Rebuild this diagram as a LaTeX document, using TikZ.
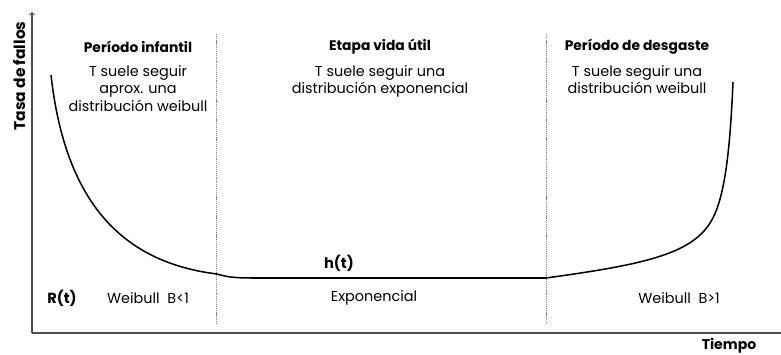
\documentclass[tikz,border=0pt]{standalone}
\usepackage{fontspec}
\setmainfont{Poppins}
\usepackage{tikz}

\tikzset{
  titulo/.style={font=\fontsize{11.8}{14}\selectfont\bfseries, align=center},
  nota/.style={font=\fontsize{12.3}{15}\selectfont, align=center},
  etiq/.style={font=\fontsize{12.3}{15}\selectfont},
  marca/.style={font=\fontsize{12.5}{15}\selectfont\bfseries},
  divisor/.style={gray, line width=0.6pt, dash pattern=on 1pt off 0.8pt},
  eje/.style={black!70, line width=0.9pt},
  curva/.style={black, line width=1.3pt}
}

\begin{document}
\begin{tikzpicture}[x=0.03cm, y=-0.03cm]
			\useasboundingbox (0,0) rectangle (781,354);
			% ejes
			\coordinate (o) at (32,333);
			\coordinate (ytop) at (32,12);
			\coordinate (xend) at (781,333);
			\draw[eje,->] (o)--(ytop);
			\draw[eje] (o)--(xend);
			\node[marca, font=\fontsize{13.2}{16}\selectfont\bfseries, rotate=90] (ylab) at (19,76) {Tasa de fallos};
			\node[marca, font=\fontsize{12}{14}\selectfont\bfseries] (xlab) at (729,346) {Tiempo};
			% divisiones
			\coordinate (d1a) at (216,34);
			\coordinate (d1b) at (216,323);
			\coordinate (d2a) at (546,34);
			\coordinate (d2b) at (546,323);
			\draw[divisor] (d1a)--(d1b);
			\draw[divisor] (d2a)--(d2b);
			% etapas
			\node[titulo] (t1) at (138,47) {Período infantil};
			\node[titulo] (t2) at (380,47) {Etapa vida útil};
			\node[titulo] (t3) at (637,47) {Período de desgaste};
			\node[nota, anchor=north] (n1) at (138,61) {T suele seguir\\aprox. una\\distribución weibull};
			\node[nota, anchor=north] (n2) at (380,61) {T suele seguir una\\distribución exponencial};
			\node[nota, anchor=north] (n3) at (637,61) {T suele seguir una\\distribución weibull};
			% curva de la bañera
			\draw[curva] (51,75) .. controls (65,200) and (120,262) .. (217,274)
				.. controls (230,278) and (240,278) .. (260,278) -- (546,278)
				.. controls (640,265) and (690,255) .. (710,223)
				.. controls (725,200) and (730,150) .. (733,82);
			\node[marca] (h) at (339,263) {h(t)};
			\node[marca] (r) at (62,298) {R(t)};
			\node[etiq] (w1) at (148,298) {Weibull\ \ B<1};
			\node[etiq] (ex) at (374,298) {Exponencial};
			\node[etiq] (w2) at (679,298) {Weibull\ \ B>1};
		\end{tikzpicture}
\end{document}
